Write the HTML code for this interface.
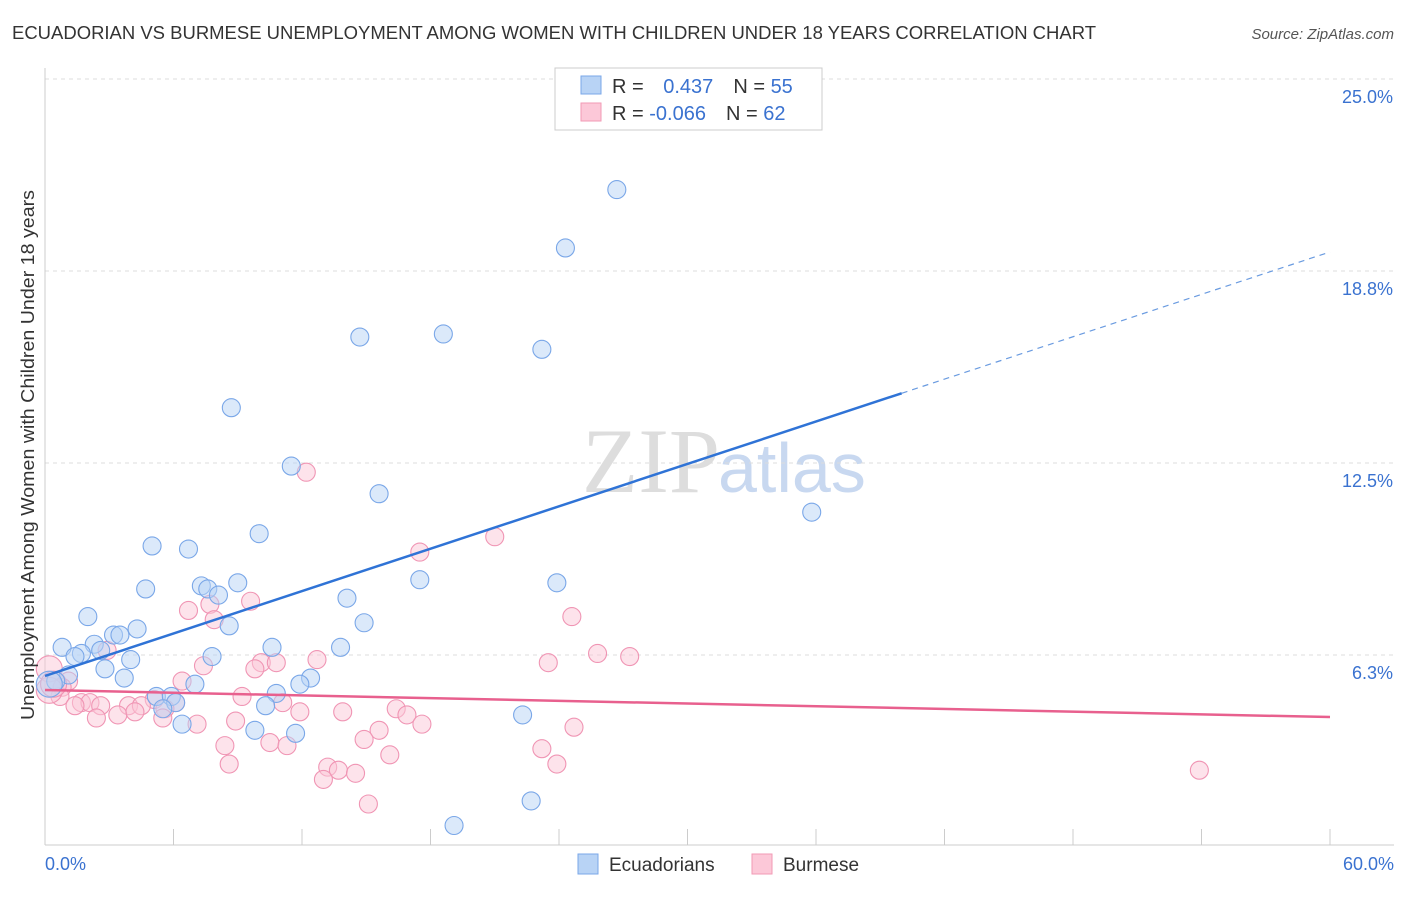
<!DOCTYPE html>
<html><head><meta charset="utf-8"><style>
body{margin:0;background:#fff;font-family:"Liberation Sans",sans-serif;}
svg text{font-family:"Liberation Sans",sans-serif;}
</style></head><body>
<svg id="chart" width="1406" height="892" xmlns="http://www.w3.org/2000/svg">
<text x="12" y="39" font-size="18" fill="#333" textLength="1084" lengthAdjust="spacingAndGlyphs">ECUADORIAN VS BURMESE UNEMPLOYMENT AMONG WOMEN WITH CHILDREN UNDER 18 YEARS CORRELATION CHART</text>
<text x="1394" y="39" font-size="15" fill="#555" font-style="italic" text-anchor="end">Source: ZipAtlas.com</text>
<text x="720" y="492" font-size="92" fill="#ddd" text-anchor="end" style="font-family:'Liberation Serif',serif">ZIP</text>
<text x="718" y="492" font-size="70" fill="#c8d8f0">atlas</text>
<g id="grid"></g>
<g id="axes"></g>
<g id="pts"></g>
<g id="trends"></g>
<text transform="translate(34,455) rotate(-90)" font-size="18" fill="#333" text-anchor="middle" textLength="530" lengthAdjust="spacingAndGlyphs">Unemployment Among Women with Children Under 18 years</text>
<g>
<rect x="555" y="68" width="267" height="62" fill="#fff" stroke="#ccc"/>
<rect x="581" y="76" width="20" height="18" fill="#b8d3f5" stroke="#7aa7e8"/>
<rect x="581" y="103" width="20" height="18" fill="#fcc8d8" stroke="#f29ab5"/>
<text x="612" y="93" font-size="20" fill="#333">R = <tspan fill="#3a72d0" dx="14">0.437</tspan><tspan dx="20" fill="#333">N = </tspan><tspan fill="#3a72d0">55</tspan></text>
<text x="612" y="120" font-size="20" fill="#333">R = <tspan fill="#3a72d0">-0.066</tspan><tspan dx="20" fill="#333">N = </tspan><tspan fill="#3a72d0">62</tspan></text>
</g>
<g>
<rect x="578" y="854" width="20" height="20" fill="#b8d3f5" stroke="#7aa7e8"/>
<text x="609" y="871" font-size="19" fill="#333">Ecuadorians</text>
<rect x="752" y="854" width="20" height="20" fill="#fcc8d8" stroke="#f29ab5"/>
<text x="783" y="871" font-size="19" fill="#333">Burmese</text>
</g>
</svg>
<script>
const yTicks=[25.0,18.8,12.5,6.3];
const yTickVals=[25,18.75,12.5,6.25];
const xTickLabels=["0.0%","60.0%"];
const blueX=[26.7,24.3,14.7,18.6,23.2,8.7,11.5,15.6,35.8,10.0,5.0,6.7,17.5,23.9,4.7,7.3,7.6,9.0,8.1,14.1,2.0,8.6,14.9,4.3,3.2,3.5,2.3,0.8,1.7,2.6,1.4,4.0,7.8,10.6,13.8,2.8,1.1,3.7,0.5,0.2,12.4,11.9,7.0,10.8,5.2,5.9,6.1,5.5,10.3,22.3,6.4,9.8,11.7,22.7,19.1];
const blueY=[21.4,19.5,16.6,16.7,16.2,14.3,12.4,11.5,10.9,10.2,9.8,9.7,8.7,8.6,8.4,8.5,8.4,8.6,8.2,8.1,7.5,7.2,7.3,7.1,6.9,6.9,6.6,6.5,6.3,6.4,6.2,6.1,6.2,6.5,6.5,5.8,5.6,5.5,5.4,5.3,5.5,5.3,5.3,5.0,4.9,4.9,4.7,4.5,4.6,4.3,4.0,3.8,3.7,1.5,0.7];
const pinkX=[12.2,21.0,17.5,6.7,7.7,9.6,24.6,7.9,2.9,25.8,27.3,23.5,12.7,10.1,10.8,7.4,9.8,0.2,1.1,6.4,0.8,0.7,9.2,5.1,1.7,2.1,2.6,1.4,3.9,4.5,6.1,5.6,11.1,16.4,11.9,13.9,16.9,2.4,3.4,4.2,5.5,7.1,8.9,17.6,15.6,24.7,14.9,8.4,10.5,11.3,23.2,16.1,8.6,13.2,13.7,14.5,23.9,13.0,15.1,53.9,0.2,0.4];
const pinkY=[12.2,10.1,9.6,7.7,7.9,8.0,7.5,7.4,6.4,6.3,6.2,6.0,6.1,6.0,6.0,5.9,5.8,5.8,5.4,5.4,5.2,4.9,4.9,4.8,4.7,4.7,4.6,4.6,4.6,4.6,4.7,4.5,4.7,4.5,4.4,4.4,4.3,4.2,4.3,4.4,4.2,4.0,4.1,4.0,3.8,3.9,3.5,3.3,3.4,3.3,3.2,3.0,2.7,2.6,2.5,2.4,2.7,2.2,1.4,2.5,5.1,5.3];
const blueTrend=[5.57,19.37];
const pinkTrend=[5.11,4.23];
const NS="http://www.w3.org/2000/svg";
const X=v=>45+v*1285/60, Y=v=>847-v*30.72;
function mk(tag,attrs,parent){const e=document.createElementNS(NS,tag);for(const k in attrs)e.setAttribute(k,attrs[k]);document.getElementById(parent).appendChild(e);return e;}
yTickVals.forEach((v,i)=>{
 const g=mk('line',{x1:45,x2:1394,y1:Y(v),y2:Y(v),stroke:'#ddd','stroke-dasharray':'4,4'},'grid');
 
 
 const t=mk('text',{x:1393,y:Y(v)+24,'font-size':18,fill:'#3a72d0','text-anchor':'end'},'axes');
 t.textContent=yTicks[i].toFixed(1)+'%';
 
 
});
const ax=mk('line',{x1:45,x2:1394,y1:845,y2:845,stroke:'#ccc'},'axes');


const ay=mk('line',{x1:45,x2:45,y1:68,y2:845,stroke:'#ccc'},'axes');


for(let i=0;i<=10;i++){const t=mk('line',{x1:X(i*6),x2:X(i*6),y1:829,y2:845,stroke:'#ccc'},'axes');
 
 }
[[0,'start',45],[60,'end',1394]].forEach((d,i)=>{const t=mk('text',{x:d[2],y:870,'font-size':18,fill:'#3a72d0','text-anchor':d[1]},'axes');t.textContent=xTickLabels[i];
 
 });
function pts(xs,ys,fill,stroke,name){xs.forEach((x,i)=>{const r=(x<0.5)?13:9;const c=mk('circle',{cx:X(x),cy:Y(ys[i]),r:r,fill:fill,'fill-opacity':0.5,stroke:stroke,'stroke-width':1.1},'pts');
 
 });}
pts(pinkX,pinkY,'#fcc8d8','#f095b4','burmese-point');
pts(blueX,blueY,'#b8d3f5','#7aa7e8','ecuadorian-point');
const bx=40;const by=blueTrend[0]+(blueTrend[1]-blueTrend[0])*bx/60;
const b1=mk('line',{x1:X(0),y1:Y(blueTrend[0]),x2:X(bx),y2:Y(by),stroke:'#2f73d6','stroke-width':2.5},'trends');


const b2=mk('line',{x1:X(bx),y1:Y(by),x2:X(60),y2:Y(blueTrend[1]),stroke:'#6a9be0','stroke-width':1.2,'stroke-dasharray':'6,5'},'trends');


const p1=mk('line',{x1:X(0),y1:Y(pinkTrend[0]),x2:X(60),y2:Y(pinkTrend[1]),stroke:'#e8608e','stroke-width':2.5},'trends');


</script>
</body></html>
